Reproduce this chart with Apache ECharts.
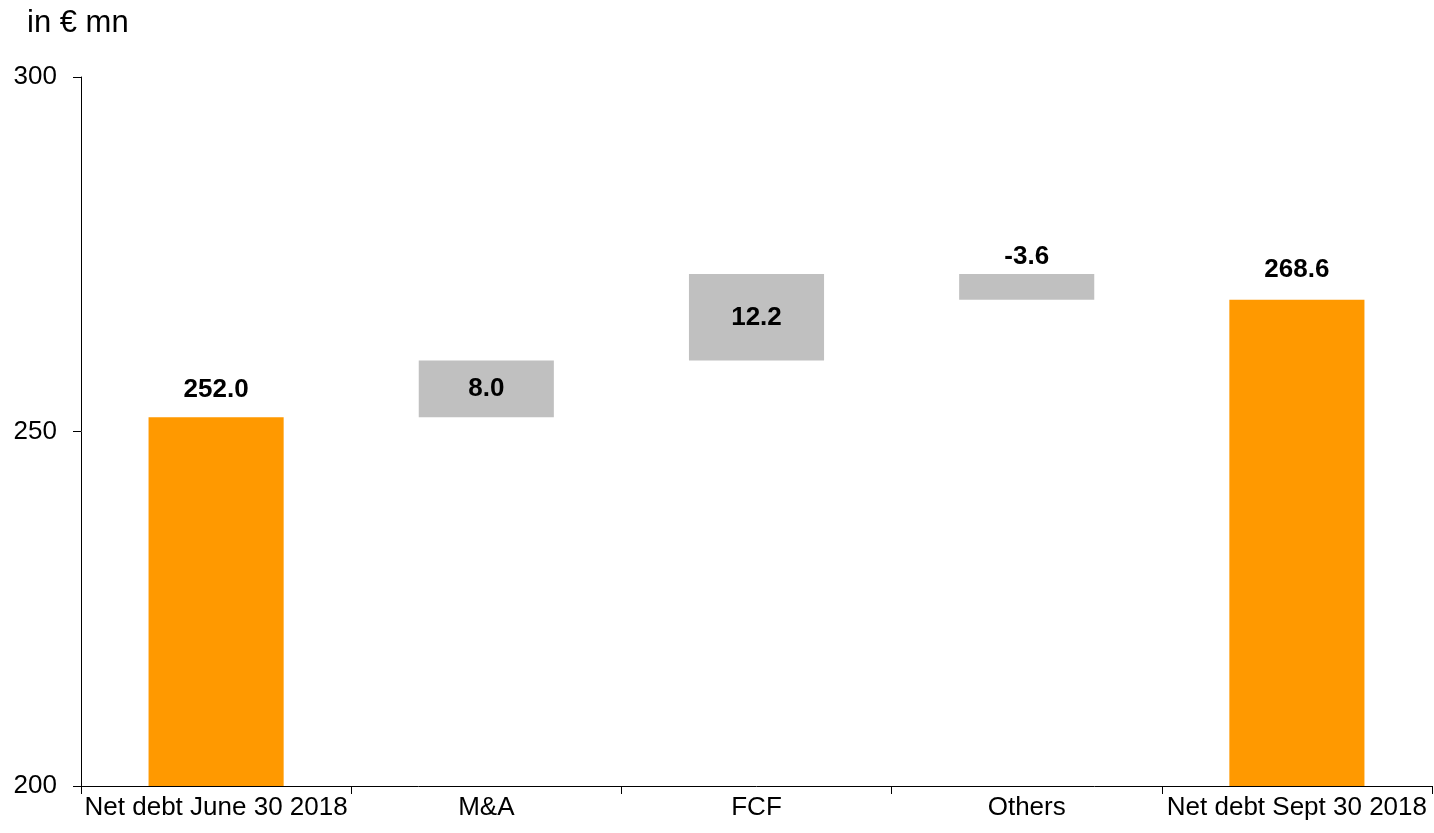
<!DOCTYPE html>
<html>
<head>
<meta charset="utf-8">
<script src="https://cdn.jsdelivr.net/npm/echarts@6/dist/echarts.min.js"></script>
<style>
  html, body { margin: 0; padding: 0; background: #fff; }
  #chart { width: 1434px; height: 833px; }
</style>
</head>
<body>
<div id="chart"></div>
<script>
// Net debt bridge, in € mn
const categories = ['Net debt June 30 2018', 'M&A', 'FCF', 'Others', 'Net debt Sept 30 2018'];
const kinds = ['total', 'delta', 'delta', 'delta', 'total'];
const amounts = [252.0, 8.0, 12.2, -3.6, 268.6];
const yTicks = [200, 250, 300];

const ORANGE = '#FF9900';
const GREY = '#C0C0C0';
const FONT = 'Liberation Sans, Arial, sans-serif';

// Floating bars: invisible base + visible segment
const baseData = [];
const barData = [];
let running = 0;
amounts.forEach((v, i) => {
  if (kinds[i] === 'total') {
    running = v;
    baseData.push(0);
    barData.push({
      value: v,
      itemStyle: { color: ORANGE },
      label: { show: true, position: 'top', distance: i === 0 ? 14 : 17, formatter: v.toFixed(1) }
    });
  } else {
    const lo = v >= 0 ? running : running + v;
    baseData.push(lo);
    barData.push({
      value: Math.abs(v),
      itemStyle: { color: GREY },
      label: v >= 0
        ? { show: true, position: 'inside', formatter: v.toFixed(1) }
        : { show: true, position: 'top', distance: 4, formatter: v.toFixed(1) }
    });
    running += v;
  }
});

const chart = echarts.init(document.getElementById('chart'), null, { renderer: 'canvas' });
chart.setOption({
  animation: false,
  backgroundColor: '#ffffff',
  textStyle: { fontFamily: FONT },
  graphic: [{
    type: 'text', left: 27, top: 8,
    style: { text: 'in € mn', fontSize: 31, fill: '#000', fontFamily: FONT }
  }],
  grid: { left: 81, right: 2, top: 77, bottom: 47, containLabel: false },
  xAxis: {
    type: 'category',
    data: categories,
    boundaryGap: true,
    axisLine: { lineStyle: { color: '#000', width: 1 } },
    axisTick: { show: true, length: 8, lineStyle: { color: '#000' } },
    axisLabel: { color: '#000', fontSize: 26, fontFamily: FONT, margin: 9, interval: 0 }
  },
  yAxis: {
    type: 'value',
    min: yTicks[0],
    max: yTicks[yTicks.length - 1],
    interval: yTicks[1] - yTicks[0],
    axisLine: { show: true, lineStyle: { color: '#000', width: 1 } },
    axisTick: { show: true, length: 8, lineStyle: { color: '#000' } },
    axisLabel: { color: '#000', fontSize: 26, fontFamily: FONT, margin: 24 },
    splitLine: { show: false }
  },
  series: [
    {
      type: 'bar', stack: 'wf', data: baseData, barWidth: '50%',
      itemStyle: { color: 'transparent' }, silent: true
    },
    {
      type: 'bar', stack: 'wf', data: barData, barWidth: '50%',
      label: { color: '#000', fontSize: 26, fontWeight: 'bold', fontFamily: FONT }
    }
  ]
});
</script>
</body>
</html>
